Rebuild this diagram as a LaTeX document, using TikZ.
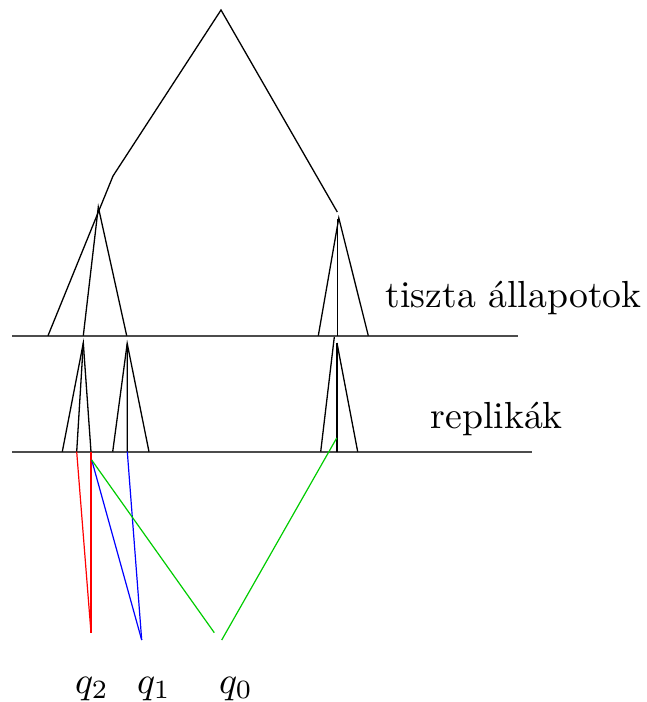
\documentclass[tikz,border=0pt]{standalone}
\begin{document}
\begin{tikzpicture}[x=0.5pt,y=-0.5pt,
  edge/.style={line width=0.65pt,black},
  level/.style={line width=0.9pt,black!70},
  lbl/.style={inner sep=0pt,font=\normalsize,scale=1.885},
  redl/.style={line width=0.6pt,red},
  bluel/.style={line width=0.6pt,blue},
  greenl/.style={line width=0.6pt,green!80!black}]
\useasboundingbox (0,0) rectangle (647,702);
% levels
\coordinate (h1a) at (12,335.7); \coordinate (h1b) at (518,335.7);
\coordinate (h2a) at (12,451.7); \coordinate (h2b) at (532,451.7);
\draw[level] (h1a) -- (h1b);
\draw[level] (h2a) -- (h2b);
% top tree
\coordinate (root) at (221,10);
\coordinate (lk) at (113,176);
\coordinate (ll) at (48,335.7);
\coordinate (rt) at (337.3,212);
\draw[edge] (ll) -- (lk) -- (root) -- (rt);
% left subtree
\coordinate (A) at (98.3,207);
\coordinate (a1) at (83.3,335.7);
\coordinate (a2) at (126.7,335.7);
\draw[edge] (a1) -- (A) -- (a2);
% right subtree
\coordinate (B) at (338.8,218);
\coordinate (Bv) at (337.3,219);
\coordinate (b1) at (318.3,335.7);
\coordinate (b2) at (368.3,335.7);
\coordinate (b3) at (337.3,335.7);
\draw[edge] (b1) -- (B) -- (b2);
\draw[edge] (Bv) -- (b3);
% replicas
\coordinate (C) at (83.3,343);
\coordinate (c1) at (62.3,451.7);
\coordinate (c2) at (76.7,451.7);
\coordinate (c3) at (91,451.7);
\draw[edge] (c1) -- (C) -- (c3);
\draw[edge] (C) -- (c2);
\coordinate (D) at (127.2,343.5);
\coordinate (d1) at (112.7,451.7);
\coordinate (d2) at (127.3,451.7);
\coordinate (d3) at (149,451.7);
\draw[edge] (d1) -- (D) -- (d3);
\draw[edge] (D) -- (d2);
\coordinate (E0) at (334.3,337);
\coordinate (E) at (337,343);
\coordinate (e1) at (320.7,451.7);
\coordinate (e2) at (337,451.7);
\coordinate (e3) at (357.7,451.7);
\draw[edge] (E0) -- (e1);
\draw[edge] (E) -- (e3);
\draw[edge] (E) -- (e2);
% measurements
\coordinate (q2p) at (91,632.7);
\coordinate (q1p) at (141.7,640);
\coordinate (q0a) at (214.3,632.7);
\coordinate (q0b) at (221.7,640);
\coordinate (gs) at (91.7,460);
\coordinate (ge) at (336.7,438);
\draw[redl] (c2) -- (q2p);
\draw[redl] (c3) -- (q2p);
\draw[bluel] (gs) -- (q1p);
\draw[bluel] (d2) -- (q1p);
\draw[greenl] (gs) -- (q0a);
\draw[greenl] (q0b) -- (ge);
% labels
\node[lbl,anchor=base west] (t1) at (385,307) {tiszta állapotok};
\node[lbl,anchor=base west] (t2) at (430,428) {replikák};
\node[lbl,anchor=base] (l2) at (92,693) {$q_2$};
\node[lbl,anchor=base] (l1) at (154,693) {$q_1$};
\node[lbl,anchor=base] (l0) at (236,693) {$q_0$};
\end{tikzpicture}
\end{document}
